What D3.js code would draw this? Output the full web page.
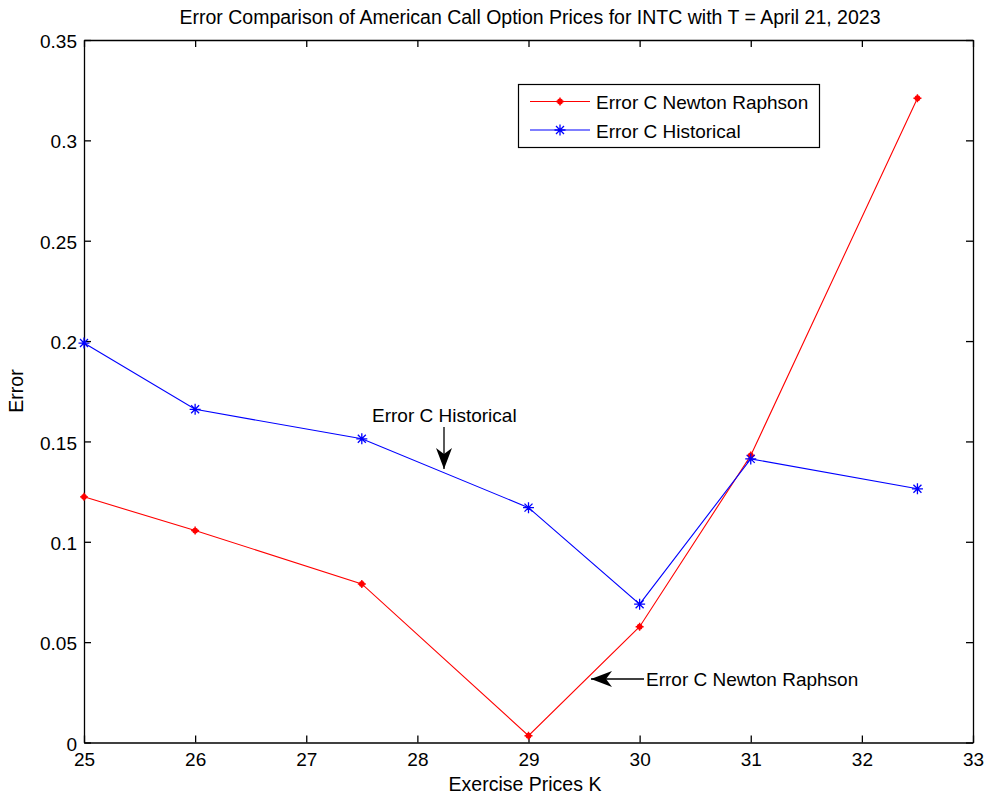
<!DOCTYPE html>
<html>
<head>
<meta charset="utf-8">
<script src="https://cdn.jsdelivr.net/npm/d3@7"></script>
<style>
  html, body { margin: 0; padding: 0; background: #fff; }
  text { font-family: "Liberation Sans", Arial, sans-serif; fill: #000; }
</style>
</head>
<body>
<svg id="chart" width="987" height="799"></svg>
<script>
// Exercise prices and the pricing errors of both methods
const strikes = [25, 26, 27.5, 29, 30, 31, 32.5];
const errorNewton = [0.1224, 0.1056, 0.0790, 0.0034, 0.0577, 0.1430, 0.3210];
const errorHistorical = [0.1990, 0.1660, 0.1513, 0.1170, 0.0689, 0.1413, 0.1264];
const xTicks = [25, 26, 27, 28, 29, 30, 31, 32, 33];
const yTicks = [0, 0.05, 0.1, 0.15, 0.2, 0.25, 0.3, 0.35];
const seriesNames = ["Error C Newton Raphson", "Error C Historical"];

const svg = d3.select("#chart");
const m = { left: 84, right: 973, top: 40, bottom: 742.5 };

const x = d3.scaleLinear().domain([25, 33]).range([m.left, m.right]);
const y = d3.scaleLinear().domain([0, 0.35]).range([m.bottom, m.top]);

const labelSize = "19.5px";
const textSize = "19px";

// Title
svg.append("text")
  .attr("x", 530).attr("y", 24)
  .attr("text-anchor", "middle").style("font-size", labelSize)
  .text("Error Comparison of American Call Option Prices for INTC with T = April 21, 2023");

// Axes: ticks drawn inward, on all four sides like a boxed plot
const tickLen = 7;
const fmtY = d => d === 0 ? "0" : String(+d.toFixed(2));

svg.append("g").attr("class", "xb").attr("transform", `translate(0,${m.bottom})`)
  .call(d3.axisBottom(x).tickValues(xTicks).tickSizeInner(-tickLen).tickSizeOuter(0).tickPadding(10.5).tickFormat(d3.format("d")));
svg.append("g").attr("transform", `translate(0,${m.top})`)
  .call(d3.axisTop(x).tickValues(xTicks).tickSizeInner(-tickLen).tickSizeOuter(0).tickFormat(""));
svg.append("g").attr("class", "yl").attr("transform", `translate(${m.left},0)`)
  .call(d3.axisLeft(y).tickValues(yTicks).tickSizeInner(-tickLen).tickSizeOuter(0).tickPadding(7).tickFormat(fmtY));
svg.append("g").attr("transform", `translate(${m.right},0)`)
  .call(d3.axisRight(y).tickValues(yTicks).tickSizeInner(-tickLen).tickSizeOuter(0).tickFormat(""));

svg.selectAll(".domain").attr("stroke", "#000").attr("stroke-width", 1.3);
svg.selectAll(".tick line").attr("stroke", "#000").attr("stroke-width", 1.3);
svg.selectAll(".tick text").style("font-size", textSize).attr("fill", "#000")
  .style("font-family", "'Liberation Sans', Arial, sans-serif");
svg.selectAll(".yl .tick text").attr("dy", "0.4em");

// Axis labels
svg.append("text")
  .attr("x", 525).attr("y", 791)
  .attr("text-anchor", "middle").style("font-size", labelSize)
  .text("Exercise Prices K");
svg.append("text")
  .attr("transform", `translate(23,391) rotate(-90)`)
  .attr("text-anchor", "middle").style("font-size", labelSize)
  .text("Error");

const line = d3.line().x(d => x(d[0])).y(d => y(d[1]));

// Marker drawers
function dotMarker(g, cx, cy, color) {
  g.append("circle").attr("cx", cx).attr("cy", cy).attr("r", 2.9).attr("fill", color);
  g.append("path").attr("d", `M${cx - 4},${cy}H${cx + 4}M${cx},${cy - 4}V${cy + 4}`)
    .attr("stroke", color).attr("stroke-width", 1.4);
}
function starMarker(g, cx, cy, color) {
  const r = 5.5, d = 4;
  g.append("path")
    .attr("d", `M${cx - r},${cy}H${cx + r}M${cx},${cy - r}V${cy + r}` +
               `M${cx - d},${cy - d}L${cx + d},${cy + d}M${cx - d},${cy + d}L${cx + d},${cy - d}`)
    .attr("stroke", color).attr("stroke-width", 1.3).attr("fill", "none");
}

const series = [
  { values: errorNewton, color: "#ff0000", marker: dotMarker },
  { values: errorHistorical, color: "#0000ff", marker: starMarker }
];

series.forEach(s => {
  const pts = strikes.map((k, i) => [k, s.values[i]]);
  svg.append("path").datum(pts).attr("d", line)
    .attr("fill", "none").attr("stroke", s.color).attr("stroke-width", 1.1);
  const g = svg.append("g");
  pts.forEach(p => s.marker(g, x(p[0]), y(p[1]), s.color));
});

// Annotation arrows with a swept-back head
const defs = svg.append("defs");
defs.append("marker").attr("id", "vback")
  .attr("viewBox", "0 0 21 16").attr("refX", 21).attr("refY", 8)
  .attr("markerWidth", 21).attr("markerHeight", 16)
  .attr("markerUnits", "userSpaceOnUse").attr("orient", "auto")
  .append("path").attr("d", "M0,0 L21,8 L0,16 L6,8 Z").attr("fill", "#000");

// "Error C Historical" pointing down at the blue line
svg.append("text").attr("x", 372).attr("y", 422).style("font-size", textSize).text("Error C Historical");
svg.append("line")
  .attr("x1", 444).attr("y1", 427).attr("x2", 444).attr("y2", 469)
  .attr("stroke", "#000").attr("stroke-width", 1.3).attr("marker-end", "url(#vback)");

// "Error C Newton Raphson" pointing left at the red line
svg.append("text").attr("x", 646).attr("y", 686).style("font-size", textSize).text("Error C Newton Raphson");
svg.append("line")
  .attr("x1", 644).attr("y1", 679).attr("x2", 591).attr("y2", 679)
  .attr("stroke", "#000").attr("stroke-width", 1.3).attr("marker-end", "url(#vback)");

// Legend
const lg = svg.append("g");
lg.append("rect").attr("x", 518.5).attr("y", 84.5).attr("width", 301).attr("height", 63)
  .attr("fill", "#fff").attr("stroke", "#000").attr("stroke-width", 1.2);
series.forEach((s, i) => {
  const ly = 101.5 + i * 28.5;
  lg.append("line").attr("x1", 530).attr("x2", 590).attr("y1", ly).attr("y2", ly)
    .attr("stroke", s.color).attr("stroke-width", 1.1);
  s.marker(lg, 560, ly, s.color);
  lg.append("text").attr("x", 596).attr("y", ly + 7.5).style("font-size", textSize).text(seriesNames[i]);
});
</script>
</body>
</html>
